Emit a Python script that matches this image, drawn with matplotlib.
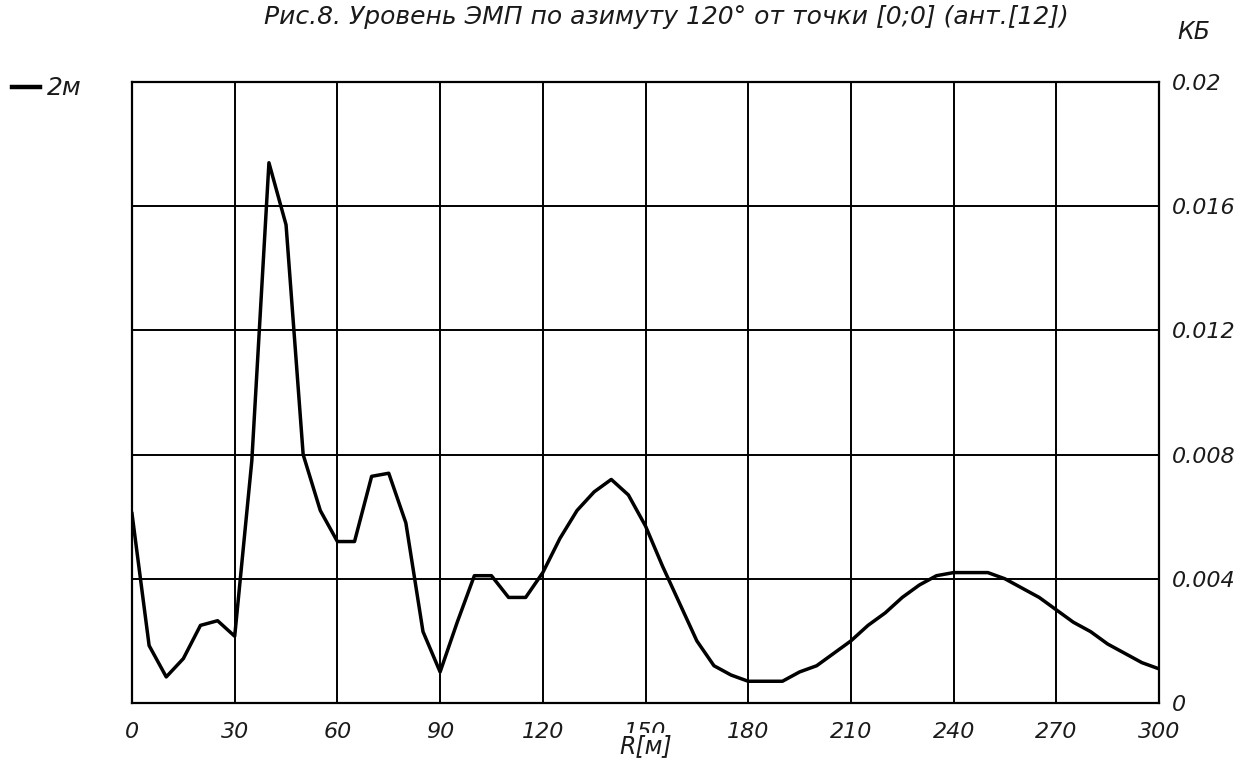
import matplotlib
matplotlib.use('Agg')
import matplotlib.pyplot as plt

# distance along azimuth, m
dist = list(range(0, 301, 5))
# field level, KB
level = [0.0061, 0.00185, 0.00084, 0.00143, 0.0025, 0.00265, 0.00215, 0.0078,
         0.0174, 0.0154, 0.0080, 0.0062, 0.0052, 0.0052, 0.0073, 0.0074,
         0.0058, 0.0023, 0.0010, 0.0026, 0.0041, 0.0041, 0.0034, 0.0034,
         0.0042, 0.0053, 0.0062, 0.0068, 0.0072, 0.0067, 0.0057, 0.0044,
         0.0032, 0.0020, 0.0012, 0.0009, 0.0007, 0.0007, 0.0007, 0.0010,
         0.0012, 0.0016, 0.0020, 0.0025, 0.0029, 0.0034, 0.0038, 0.0041,
         0.0042, 0.0042, 0.0042, 0.0040, 0.0037, 0.0034, 0.0030, 0.0026,
         0.0023, 0.0019, 0.0016, 0.0013, 0.0011]

x_ticks = list(range(0, 301, 30))
y_ticks = [0, 0.004, 0.008, 0.012, 0.016, 0.02]
y_labels = ['0', '0.004', '0.008', '0.012', '0.016', '0.02']

title = 'Рис.8. Уровень ЭМП по азимуту 120° от точки [0;0] (ант.[12])'
series_name = '2м'

plt.rcParams['font.family'] = ['DejaVu Sans']
plt.rcParams['font.style'] = 'italic'
txt_color = '#1a1a1a'

fig = plt.figure(figsize=(12.59, 7.66), dpi=100)
ax = fig.add_axes([132 / 1259, 1 - 703 / 766, (1159 - 132) / 1259, (703 - 82) / 766])

ax.plot(dist, level, color='black', lw=2.5, zorder=3)

ax.set_xlim(0, 300)
ax.set_ylim(0, 0.02)
ax.set_xticks(x_ticks)
ax.set_xticklabels([str(t) for t in x_ticks])
ax.set_yticks(y_ticks)
ax.set_yticklabels(y_labels)
ax.yaxis.tick_right()
ax.tick_params(axis='both', length=0, labelsize=16, colors=txt_color)
ax.tick_params(axis='x', pad=14)
ax.tick_params(axis='y', pad=9)
ax.grid(True, color='black', lw=1.4)
for s in ax.spines.values():
    s.set_linewidth(1.6)
    s.set_color('black')

# axis name sits over the lower half of the "150" label, as in the source
ax.set_xlabel('R[м]', fontsize=17, color=txt_color, labelpad=-6,
              bbox=dict(facecolor='white', edgecolor='none', pad=0.5))

fig.text(666 / 1259, 1 - 17 / 766, title, ha='center', va='center',
         fontsize=18, color=txt_color)
fig.text(1177 / 1259, 1 - 32 / 766, 'КБ', ha='left', va='center',
         fontsize=17, color=txt_color)

# legend entry top-left
fig.add_artist(plt.Line2D([12 / 1259, 40 / 1259], [1 - 87 / 766, 1 - 87 / 766],
                          color='black', lw=3.2, transform=fig.transFigure))
fig.text(47 / 1259, 1 - 88 / 766, series_name, ha='left', va='center',
         fontsize=18, color=txt_color)

fig.savefig('out.png', dpi=100, facecolor='white')
